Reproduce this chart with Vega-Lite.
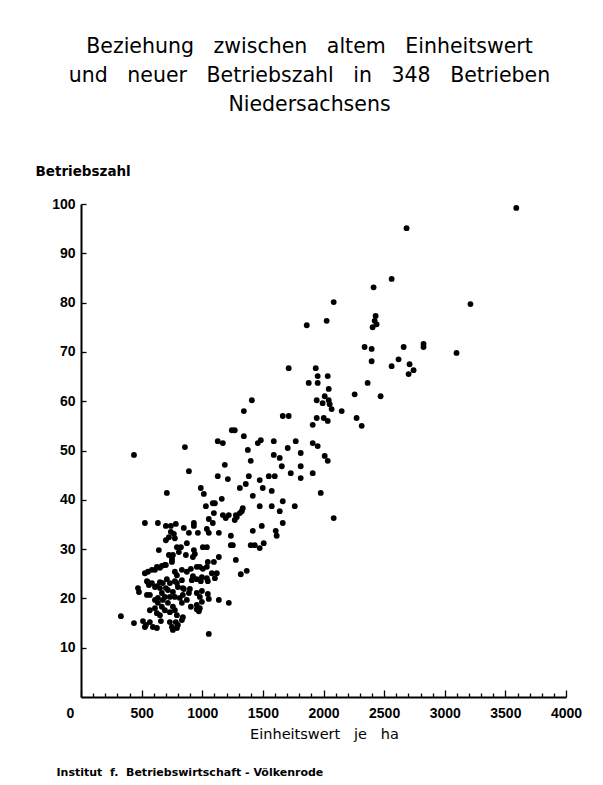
{
  "$schema": "https://vega.github.io/schema/vega-lite/v6.json",
  "width": 485,
  "height": 493,
  "autosize": {"type": "none"},
  "padding": {"left": 81, "top": 204, "right": 37, "bottom": 88},
  "background": "white",
  "config": {"view": {"stroke": null}, "font": "DejaVu Sans"},
  "title": {
    "text": ["Beziehung \u00a0\u00a0zwischen \u00a0\u00a0altem \u00a0\u00a0Einheitswert", "und \u00a0\u00a0neuer \u00a0\u00a0Betriebszahl \u00a0\u00a0in \u00a0\u00a0348 \u00a0\u00a0Betrieben", "Niedersachsens"],
    "fontSize": 20.5,
    "fontWeight": "normal",
    "font": "DejaVu Sans",
    "lineHeight": 29,
    "anchor": "middle",
    "offset": 49,
    "dx": -14,
    "color": "black"
  },
  "data": {"values": [
    {"Einheitswert": 3590, "Betriebszahl": 99.2}, {"Einheitswert": 2685, "Betriebszahl": 95.1}, {"Einheitswert": 3212, "Betriebszahl": 79.7}, {"Einheitswert": 3097, "Betriebszahl": 69.8},
    {"Einheitswert": 2562, "Betriebszahl": 84.8}, {"Einheitswert": 2413, "Betriebszahl": 83.1}, {"Einheitswert": 2084, "Betriebszahl": 80.1}, {"Einheitswert": 1862, "Betriebszahl": 75.4},
    {"Einheitswert": 2026, "Betriebszahl": 76.3}, {"Einheitswert": 2430, "Betriebszahl": 77.3}, {"Einheitswert": 2422, "Betriebszahl": 76.3}, {"Einheitswert": 2438, "Betriebszahl": 75.6},
    {"Einheitswert": 2405, "Betriebszahl": 75.0}, {"Einheitswert": 2339, "Betriebszahl": 71.0}, {"Einheitswert": 2397, "Betriebszahl": 70.6}, {"Einheitswert": 2661, "Betriebszahl": 71.0},
    {"Einheitswert": 2825, "Betriebszahl": 71.6}, {"Einheitswert": 2825, "Betriebszahl": 71.0}, {"Einheitswert": 1713, "Betriebszahl": 66.7}, {"Einheitswert": 1936, "Betriebszahl": 66.7},
    {"Einheitswert": 1952, "Betriebszahl": 65.1}, {"Einheitswert": 2035, "Betriebszahl": 65.1}, {"Einheitswert": 1878, "Betriebszahl": 63.7}, {"Einheitswert": 1952, "Betriebszahl": 63.7},
    {"Einheitswert": 2043, "Betriebszahl": 62.5}, {"Einheitswert": 2397, "Betriebszahl": 68.1}, {"Einheitswert": 2562, "Betriebszahl": 67.1}, {"Einheitswert": 2619, "Betriebszahl": 68.5},
    {"Einheitswert": 2710, "Betriebszahl": 67.5}, {"Einheitswert": 2743, "Betriebszahl": 66.3}, {"Einheitswert": 2702, "Betriebszahl": 65.5}, {"Einheitswert": 2364, "Betriebszahl": 63.7},
    {"Einheitswert": 2257, "Betriebszahl": 61.4}, {"Einheitswert": 2471, "Betriebszahl": 61.0}, {"Einheitswert": 1944, "Betriebszahl": 60.2}, {"Einheitswert": 1993, "Betriebszahl": 59.6},
    {"Einheitswert": 2010, "Betriebszahl": 61.0}, {"Einheitswert": 2043, "Betriebszahl": 60.2}, {"Einheitswert": 2051, "Betriebszahl": 59.4}, {"Einheitswert": 2067, "Betriebszahl": 58.4},
    {"Einheitswert": 2150, "Betriebszahl": 58.0}, {"Einheitswert": 1664, "Betriebszahl": 57.0}, {"Einheitswert": 1713, "Betriebszahl": 57.0}, {"Einheitswert": 1944, "Betriebszahl": 56.6},
    {"Einheitswert": 2002, "Betriebszahl": 56.6}, {"Einheitswert": 2035, "Betriebszahl": 56.0}, {"Einheitswert": 1911, "Betriebszahl": 55.2}, {"Einheitswert": 2273, "Betriebszahl": 56.6},
    {"Einheitswert": 2315, "Betriebszahl": 55.0}, {"Einheitswert": 1483, "Betriebszahl": 52.1}, {"Einheitswert": 1590, "Betriebszahl": 51.9}, {"Einheitswert": 1771, "Betriebszahl": 51.9},
    {"Einheitswert": 1705, "Betriebszahl": 50.5}, {"Einheitswert": 1812, "Betriebszahl": 49.5}, {"Einheitswert": 1911, "Betriebszahl": 51.5}, {"Einheitswert": 1952, "Betriebszahl": 50.9},
    {"Einheitswert": 1590, "Betriebszahl": 49.1}, {"Einheitswert": 1639, "Betriebszahl": 48.5}, {"Einheitswert": 1656, "Betriebszahl": 46.8}, {"Einheitswert": 1812, "Betriebszahl": 46.8},
    {"Einheitswert": 2010, "Betriebszahl": 48.9}, {"Einheitswert": 2035, "Betriebszahl": 47.9}, {"Einheitswert": 1730, "Betriebszahl": 45.4}, {"Einheitswert": 1549, "Betriebszahl": 44.8},
    {"Einheitswert": 1598, "Betriebszahl": 44.8}, {"Einheitswert": 1812, "Betriebszahl": 44.4}, {"Einheitswert": 1911, "Betriebszahl": 45.4}, {"Einheitswert": 1474, "Betriebszahl": 44.0},
    {"Einheitswert": 1499, "Betriebszahl": 42.4}, {"Einheitswert": 1573, "Betriebszahl": 41.8}, {"Einheitswert": 1977, "Betriebszahl": 41.4}, {"Einheitswert": 1664, "Betriebszahl": 39.7},
    {"Einheitswert": 1474, "Betriebszahl": 38.7}, {"Einheitswert": 1573, "Betriebszahl": 38.7}, {"Einheitswert": 1763, "Betriebszahl": 38.7}, {"Einheitswert": 1639, "Betriebszahl": 37.7},
    {"Einheitswert": 1491, "Betriebszahl": 34.7}, {"Einheitswert": 1664, "Betriebszahl": 35.3}, {"Einheitswert": 1606, "Betriebszahl": 33.7}, {"Einheitswert": 1614, "Betriebszahl": 32.7},
    {"Einheitswert": 1507, "Betriebszahl": 31.2}, {"Einheitswert": 1474, "Betriebszahl": 30.2}, {"Einheitswert": 2084, "Betriebszahl": 36.3}, {"Einheitswert": 1409, "Betriebszahl": 60.2},
    {"Einheitswert": 1343, "Betriebszahl": 58.0}, {"Einheitswert": 1244, "Betriebszahl": 54.1}, {"Einheitswert": 1268, "Betriebszahl": 54.1}, {"Einheitswert": 1343, "Betriebszahl": 52.9},
    {"Einheitswert": 1458, "Betriebszahl": 51.5}, {"Einheitswert": 1376, "Betriebszahl": 50.1}, {"Einheitswert": 1400, "Betriebszahl": 47.9}, {"Einheitswert": 1128, "Betriebszahl": 51.9},
    {"Einheitswert": 1170, "Betriebszahl": 51.5}, {"Einheitswert": 857, "Betriebszahl": 50.7}, {"Einheitswert": 437, "Betriebszahl": 49.1}, {"Einheitswert": 890, "Betriebszahl": 45.8},
    {"Einheitswert": 1186, "Betriebszahl": 47.1}, {"Einheitswert": 1128, "Betriebszahl": 44.8}, {"Einheitswert": 1211, "Betriebszahl": 44.2}, {"Einheitswert": 1384, "Betriebszahl": 44.8},
    {"Einheitswert": 1310, "Betriebszahl": 42.4}, {"Einheitswert": 1359, "Betriebszahl": 43.2}, {"Einheitswert": 708, "Betriebszahl": 41.4}, {"Einheitswert": 988, "Betriebszahl": 42.4},
    {"Einheitswert": 1013, "Betriebszahl": 41.2}, {"Einheitswert": 1161, "Betriebszahl": 40.2}, {"Einheitswert": 1417, "Betriebszahl": 40.8}, {"Einheitswert": 1030, "Betriebszahl": 38.7},
    {"Einheitswert": 1087, "Betriebszahl": 39.3}, {"Einheitswert": 1104, "Betriebszahl": 39.3}, {"Einheitswert": 1334, "Betriebszahl": 38.3}, {"Einheitswert": 1326, "Betriebszahl": 37.7},
    {"Einheitswert": 1310, "Betriebszahl": 37.3}, {"Einheitswert": 1277, "Betriebszahl": 36.9}, {"Einheitswert": 1285, "Betriebszahl": 36.5}, {"Einheitswert": 1268, "Betriebszahl": 35.9},
    {"Einheitswert": 1096, "Betriebszahl": 37.3}, {"Einheitswert": 1170, "Betriebszahl": 36.9}, {"Einheitswert": 1194, "Betriebszahl": 36.3}, {"Einheitswert": 1219, "Betriebszahl": 36.9},
    {"Einheitswert": 1054, "Betriebszahl": 36.1}, {"Einheitswert": 1087, "Betriebszahl": 35.3}, {"Einheitswert": 527, "Betriebszahl": 35.3}, {"Einheitswert": 634, "Betriebszahl": 35.3},
    {"Einheitswert": 700, "Betriebszahl": 34.7}, {"Einheitswert": 741, "Betriebszahl": 34.7}, {"Einheitswert": 782, "Betriebszahl": 35.1}, {"Einheitswert": 848, "Betriebszahl": 34.3},
    {"Einheitswert": 931, "Betriebszahl": 35.3}, {"Einheitswert": 931, "Betriebszahl": 34.7}, {"Einheitswert": 890, "Betriebszahl": 33.3}, {"Einheitswert": 964, "Betriebszahl": 33.3},
    {"Einheitswert": 1038, "Betriebszahl": 34.1}, {"Einheitswert": 1054, "Betriebszahl": 33.3}, {"Einheitswert": 1137, "Betriebszahl": 33.3}, {"Einheitswert": 741, "Betriebszahl": 33.5},
    {"Einheitswert": 766, "Betriebszahl": 33.1}, {"Einheitswert": 725, "Betriebszahl": 32.4}, {"Einheitswert": 700, "Betriebszahl": 31.8}, {"Einheitswert": 774, "Betriebszahl": 32.2},
    {"Einheitswert": 1236, "Betriebszahl": 32.7}, {"Einheitswert": 1417, "Betriebszahl": 33.7}, {"Einheitswert": 642, "Betriebszahl": 29.8}, {"Einheitswert": 824, "Betriebszahl": 30.4},
    {"Einheitswert": 873, "Betriebszahl": 31.2}, {"Einheitswert": 1005, "Betriebszahl": 30.4}, {"Einheitswert": 1038, "Betriebszahl": 30.4}, {"Einheitswert": 1236, "Betriebszahl": 30.8},
    {"Einheitswert": 1252, "Betriebszahl": 30.8}, {"Einheitswert": 1400, "Betriebszahl": 30.8}, {"Einheitswert": 1433, "Betriebszahl": 30.8}, {"Einheitswert": 807, "Betriebszahl": 29.4},
    {"Einheitswert": 865, "Betriebszahl": 28.8}, {"Einheitswert": 725, "Betriebszahl": 28.8}, {"Einheitswert": 758, "Betriebszahl": 28.8}, {"Einheitswert": 750, "Betriebszahl": 28.2},
    {"Einheitswert": 931, "Betriebszahl": 29.8}, {"Einheitswert": 939, "Betriebszahl": 29.0}, {"Einheitswert": 923, "Betriebszahl": 28.4}, {"Einheitswert": 1137, "Betriebszahl": 28.4},
    {"Einheitswert": 1277, "Betriebszahl": 27.8}, {"Einheitswert": 1046, "Betriebszahl": 27.4}, {"Einheitswert": 1096, "Betriebszahl": 27.4}, {"Einheitswert": 1318, "Betriebszahl": 24.9},
    {"Einheitswert": 1367, "Betriebszahl": 25.6}, {"Einheitswert": 774, "Betriebszahl": 25.4}, {"Einheitswert": 832, "Betriebszahl": 25.8}, {"Einheitswert": 873, "Betriebszahl": 25.4},
    {"Einheitswert": 906, "Betriebszahl": 26.0}, {"Einheitswert": 955, "Betriebszahl": 26.4}, {"Einheitswert": 980, "Betriebszahl": 26.4}, {"Einheitswert": 1005, "Betriebszahl": 26.0},
    {"Einheitswert": 1038, "Betriebszahl": 26.4}, {"Einheitswert": 1079, "Betriebszahl": 25.1}, {"Einheitswert": 1120, "Betriebszahl": 25.1}, {"Einheitswert": 1104, "Betriebszahl": 24.1},
    {"Einheitswert": 1038, "Betriebszahl": 24.1}, {"Einheitswert": 997, "Betriebszahl": 24.3}, {"Einheitswert": 955, "Betriebszahl": 23.9}, {"Einheitswert": 923, "Betriebszahl": 24.5},
    {"Einheitswert": 988, "Betriebszahl": 23.5}, {"Einheitswert": 1046, "Betriebszahl": 23.5}, {"Einheitswert": 914, "Betriebszahl": 23.7}, {"Einheitswert": 791, "Betriebszahl": 23.1},
    {"Einheitswert": 832, "Betriebszahl": 23.7}, {"Einheitswert": 799, "Betriebszahl": 22.3}, {"Einheitswert": 840, "Betriebszahl": 22.1}, {"Einheitswert": 898, "Betriebszahl": 21.9},
    {"Einheitswert": 848, "Betriebszahl": 21.9}, {"Einheitswert": 890, "Betriebszahl": 21.1}, {"Einheitswert": 955, "Betriebszahl": 21.1}, {"Einheitswert": 997, "Betriebszahl": 21.5},
    {"Einheitswert": 1046, "Betriebszahl": 20.9}, {"Einheitswert": 1054, "Betriebszahl": 19.9}, {"Einheitswert": 980, "Betriebszahl": 20.3}, {"Einheitswert": 997, "Betriebszahl": 19.3},
    {"Einheitswert": 955, "Betriebszahl": 18.7}, {"Einheitswert": 980, "Betriebszahl": 18.0}, {"Einheitswert": 972, "Betriebszahl": 17.4}, {"Einheitswert": 1137, "Betriebszahl": 19.7},
    {"Einheitswert": 1219, "Betriebszahl": 19.1}, {"Einheitswert": 906, "Betriebszahl": 18.3}, {"Einheitswert": 955, "Betriebszahl": 17.8}, {"Einheitswert": 1054, "Betriebszahl": 12.8},
    {"Einheitswert": 774, "Betriebszahl": 20.3}, {"Einheitswert": 815, "Betriebszahl": 20.1}, {"Einheitswert": 840, "Betriebszahl": 20.7}, {"Einheitswert": 832, "Betriebszahl": 19.1},
    {"Einheitswert": 873, "Betriebszahl": 19.7}, {"Einheitswert": 840, "Betriebszahl": 16.2}, {"Einheitswert": 832, "Betriebszahl": 15.6}, {"Einheitswert": 774, "Betriebszahl": 17.6},
    {"Einheitswert": 791, "Betriebszahl": 16.6}, {"Einheitswert": 782, "Betriebszahl": 15.2}, {"Einheitswert": 758, "Betriebszahl": 13.6}, {"Einheitswert": 692, "Betriebszahl": 26.8},
    {"Einheitswert": 651, "Betriebszahl": 26.2}, {"Einheitswert": 610, "Betriebszahl": 25.8}, {"Einheitswert": 552, "Betriebszahl": 25.4}, {"Einheitswert": 527, "Betriebszahl": 25.1},
    {"Einheitswert": 750, "Betriebszahl": 27.4}, {"Einheitswert": 791, "Betriebszahl": 24.7}, {"Einheitswert": 552, "Betriebszahl": 23.3}, {"Einheitswert": 560, "Betriebszahl": 22.7},
    {"Einheitswert": 470, "Betriebszahl": 22.1}, {"Einheitswert": 478, "Betriebszahl": 21.3}, {"Einheitswert": 610, "Betriebszahl": 22.3}, {"Einheitswert": 651, "Betriebszahl": 22.1},
    {"Einheitswert": 675, "Betriebszahl": 23.1}, {"Einheitswert": 708, "Betriebszahl": 23.9}, {"Einheitswert": 544, "Betriebszahl": 20.7}, {"Einheitswert": 568, "Betriebszahl": 20.7},
    {"Einheitswert": 610, "Betriebszahl": 19.7}, {"Einheitswert": 634, "Betriebszahl": 20.1}, {"Einheitswert": 667, "Betriebszahl": 21.1}, {"Einheitswert": 692, "Betriebszahl": 20.3},
    {"Einheitswert": 733, "Betriebszahl": 20.3}, {"Einheitswert": 758, "Betriebszahl": 21.3}, {"Einheitswert": 634, "Betriebszahl": 19.1}, {"Einheitswert": 667, "Betriebszahl": 18.3},
    {"Einheitswert": 692, "Betriebszahl": 17.6}, {"Einheitswert": 610, "Betriebszahl": 18.0}, {"Einheitswert": 568, "Betriebszahl": 17.6}, {"Einheitswert": 717, "Betriebszahl": 19.1},
    {"Einheitswert": 758, "Betriebszahl": 18.3}, {"Einheitswert": 799, "Betriebszahl": 14.6}, {"Einheitswert": 791, "Betriebszahl": 14.0}, {"Einheitswert": 651, "Betriebszahl": 16.6},
    {"Einheitswert": 626, "Betriebszahl": 17.0}, {"Einheitswert": 329, "Betriebszahl": 16.4}, {"Einheitswert": 437, "Betriebszahl": 15.0}, {"Einheitswert": 511, "Betriebszahl": 15.4},
    {"Einheitswert": 535, "Betriebszahl": 14.6}, {"Einheitswert": 568, "Betriebszahl": 15.2}, {"Einheitswert": 593, "Betriebszahl": 14.2}, {"Einheitswert": 626, "Betriebszahl": 14.0},
    {"Einheitswert": 733, "Betriebszahl": 15.2}, {"Einheitswert": 750, "Betriebszahl": 14.2}, {"Einheitswert": 659, "Betriebszahl": 15.4}, {"Einheitswert": 585, "Betriebszahl": 25.8},
    {"Einheitswert": 626, "Betriebszahl": 26.4}, {"Einheitswert": 667, "Betriebszahl": 26.6}, {"Einheitswert": 544, "Betriebszahl": 23.5}, {"Einheitswert": 585, "Betriebszahl": 23.1},
    {"Einheitswert": 626, "Betriebszahl": 22.5}, {"Einheitswert": 651, "Betriebszahl": 23.3}, {"Einheitswert": 733, "Betriebszahl": 23.1}, {"Einheitswert": 774, "Betriebszahl": 23.5},
    {"Einheitswert": 700, "Betriebszahl": 26.8}, {"Einheitswert": 750, "Betriebszahl": 27.8}, {"Einheitswert": 527, "Betriebszahl": 14.2}, {"Einheitswert": 717, "Betriebszahl": 21.7},
    {"Einheitswert": 675, "Betriebszahl": 19.7}, {"Einheitswert": 733, "Betriebszahl": 17.2}, {"Einheitswert": 700, "Betriebszahl": 22.1}, {"Einheitswert": 791, "Betriebszahl": 30.4}
  ]},
  "layer": [
    {
      "mark": {"type": "point", "shape": "circle", "filled": true, "size": 34, "color": "black", "opacity": 1, "strokeWidth": 0},
      "encoding": {
        "x": {
          "field": "Einheitswert", "type": "quantitative",
          "scale": {"domain": [0, 4000], "nice": false},
          "axis": {
            "values": [0, 100, 200, 300, 400, 500, 600, 700, 800, 900, 1000, 1100, 1200, 1300, 1400, 1500, 1600, 1700, 1800, 1900, 2000, 2100, 2200, 2300, 2400, 2500, 2600, 2700, 2800, 2900, 3000, 3100, 3200, 3300, 3400, 3500, 3600, 3700, 3800, 3900, 4000],
            "labelExpr": "datum.value % 500 == 0 ? datum.label : ''",
            "format": "d",
            "grid": false,
            "domainColor": "black", "domainWidth": 2,
            "tickColor": "black", "tickWidth": 1.3,
            "tickSize": {"condition": {"test": "datum.value % 500 == 0", "value": -7}, "value": -4},
            "labelOffset": {"condition": {"test": "datum.value == 0", "value": -11}, "value": 0},
            "labelPadding": 16,
            "labelFlush": false, "labelOverlap": false,
            "labelFont": "Liberation Sans", "labelFontSize": 14, "labelFontWeight": "bold", "labelColor": "black",
            "title": "Einheitswert \u00a0\u00a0je \u00a0\u00a0ha",
            "titleFont": "DejaVu Sans", "titleFontSize": 14.5, "titleFontWeight": "normal", "titleColor": "black",
            "titleX": 243, "titleY": 41, "titleBaseline": "alphabetic", "titleAlign": "center"
          }
        },
        "y": {
          "field": "Betriebszahl", "type": "quantitative",
          "scale": {"domain": [0, 100], "nice": false},
          "axis": {
            "values": [10, 20, 30, 40, 50, 60, 70, 80, 90, 100],
            "grid": false,
            "domainColor": "black", "domainWidth": 2,
            "tickColor": "black", "tickWidth": 1.3, "tickSize": -5,
            "labelPadding": 11,
            "labelFont": "Liberation Sans", "labelFontSize": 14, "labelFontWeight": "bold", "labelColor": "black",
            "title": "Betriebszahl",
            "titleAngle": 0, "titleAlign": "left", "titleBaseline": "alphabetic",
            "titleX": -46, "titleY": -29,
            "titleFont": "DejaVu Sans", "titleFontSize": 13.5, "titleFontWeight": "bold", "titleColor": "black"
          }
        }
      }
    },
    {
      "mark": {"type": "point", "opacity": 0},
      "encoding": {
        "x": {
          "field": "Einheitswert", "type": "quantitative",
          "axis": {
            "orient": "bottom",
            "domain": false, "ticks": false, "labels": false, "grid": false,
            "title": "Institut \u00a0f. \u00a0Betriebswirtschaft - Völkenrode",
            "titleFont": "DejaVu Sans", "titleFontSize": 11, "titleFontWeight": "bold", "titleColor": "black",
            "titleX": -25, "titleY": 78, "titleAlign": "left", "titleAnchor": "start", "titleBaseline": "alphabetic"
          }
        },
        "y": {"field": "Betriebszahl", "type": "quantitative"}
      }
    }
  ],
  "resolve": {"axis": {"x": "independent"}}
}
